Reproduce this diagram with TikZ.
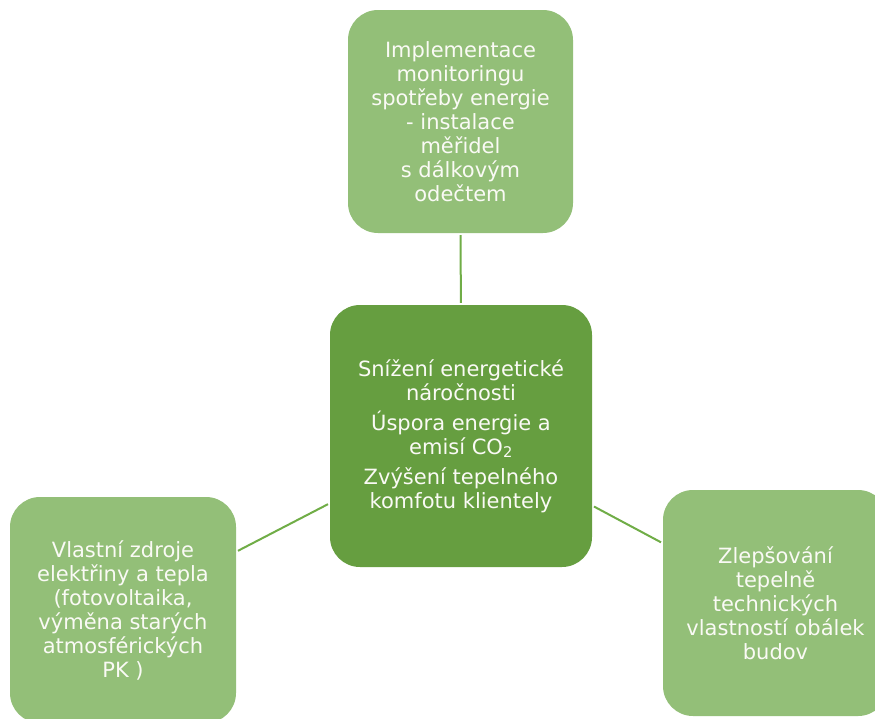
\documentclass[tikz,border=0pt]{standalone}
\usepackage{fontspec}
\setmainfont{DejaVu Sans}
\usetikzlibrary{positioning}
\definecolor{leafgreen}{RGB}{147, 191, 120}
\definecolor{deepgreen}{RGB}{102, 158, 64}
\definecolor{linkgreen}{RGB}{112, 173, 71}
\definecolor{paper}{RGB}{250, 250, 245}

\begin{document}
\begin{tikzpicture}[
    x=1pt, y=1pt,
    txt/.style   = {font=\fontsize{21}{24}\selectfont, text=paper, align=center},
    leaf/.style  = {txt, fill=leafgreen, rounded corners=30pt, inner sep=0pt},
    hub/.style   = {txt, fill=deepgreen, rounded corners=30pt, inner sep=0pt,
                    minimum width=262pt, minimum height=262pt},
    link/.style  = {draw=linkgreen, line width=2pt, shorten <=2pt, shorten >=2pt},
  ]
    \useasboundingbox (0,0) rectangle (875,-718);

    % -- hub --
    \node[hub] (hub) at (461,-436)
      {Snížení energetické\\ náročnosti\\[6pt]
       Úspora energie a\\ emisí CO\textsubscript{2}\\[6pt]
       Zvýšení tepelného\\ komfotu klientely};

    % -- leaves --
    \node[leaf, minimum width=225pt, minimum height=223pt] (meter) at (460.5,-121.5)
      {Implementace\\ monitoringu\\ spotřeby energie\\ - instalace\\ měřidel\\ s dálkovým\\ odečtem};
    \node[leaf, minimum width=226pt, minimum height=226pt] (source) at (123,-610)
      {Vlastní zdroje\\ elektřiny a tepla\\ (fotovoltaika,\\ výměna starých\\ atmosférických\\ PK )};
    \node[leaf, minimum width=225pt, minimum height=226pt] (shell) at (775.5,-603)
      {Zlepšování\\ tepelně\\ technických\\ vlastností obálek\\ budov};

    % -- links --
    \draw[link] (meter) -- (hub);
    \draw[link] (source) -- (hub);
    \draw[link] (hub) -- (shell);
\end{tikzpicture}
\end{document}
